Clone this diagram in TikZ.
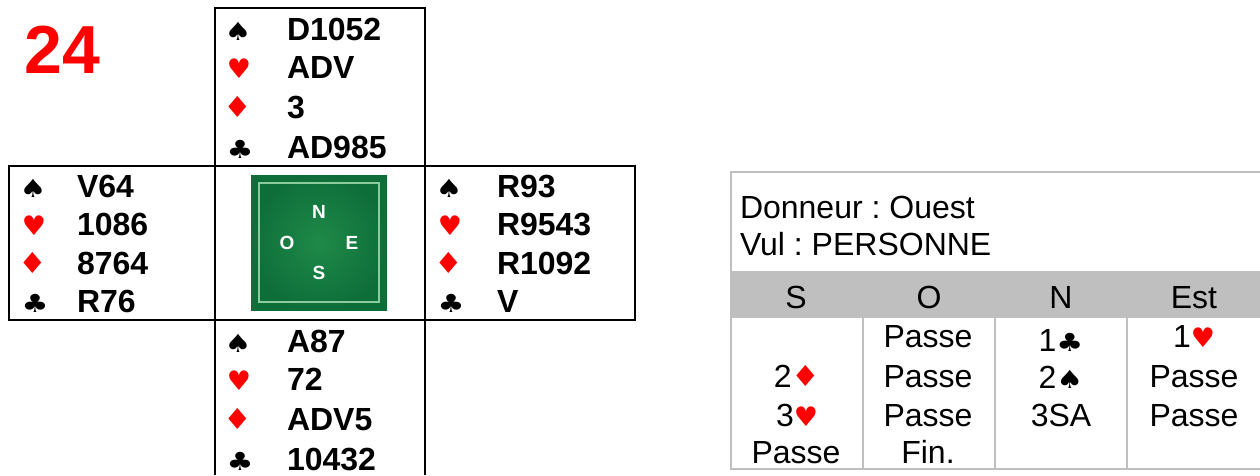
\documentclass[tikz,border=0pt]{standalone}
\usepackage{fontspec}
\setmainfont{Liberation Sans}
\newfontfamily\suitfont{DejaVu Sans}
\frenchspacing
\definecolor{tablegrey}{HTML}{BFBFBF}
\definecolor{feltcenter}{HTML}{1E8A48}
\definecolor{feltedge}{HTML}{0E6E3A}
\definecolor{feltline}{HTML}{8CCB9E}
\newcommand{\sz}[1]{\fontsize{#1}{#1}\selectfont}
\newcommand{\sS}{{\suitfont\sz{25}\scalebox{1.2}[1]{♠}}}
\newcommand{\sH}{{\color{red}\suitfont\sz{27}♥}}
\newcommand{\sD}{{\color{red}\suitfont\sz{29}\raisebox{1pt}{\scalebox{1.1}[1]{♦}}}}
\newcommand{\sC}{{\suitfont\sz{25}\scalebox{1.2}[1]{♣}}}
\newcommand{\handcards}[9]{%
  \node[suitmark] (#1s1) at (#2,#4) {\sS};
  \node[suitmark] (#1s2) at (#2+1,#5) {\sH};
  \node[suitmark] (#1s3) at (#2,#6) {\sD};
  \node[suitmark] (#1s4) at (#2+2,#7) {\sC};
  \node[cards] (#1c1) at (#3,#4) {#8};
  \node[cards] (#1c2) at (#3,#5) {#9};
}
\tikzset{
  suitmark/.style={anchor=base,inner sep=0pt,outer sep=0pt},
  cards/.style={anchor=base west,inner sep=0pt,outer sep=0pt,font=\bfseries\sz{32}},
  frame/.style={draw=black,line width=2pt},
  grid/.style={draw=tablegrey,line width=1.5pt},
  lbl/.style={anchor=base west,inner sep=0pt,outer sep=0pt,font=\sz{32}},
  bid/.style={anchor=base,inner sep=0pt,outer sep=0pt,font=\sz{32}},
  felt/.style={text=white,font=\bfseries\sz{19},inner sep=0pt,outer sep=0pt},
}
\begin{document}
\begin{tikzpicture}[x=1pt,y=-1pt]
\useasboundingbox (0,0) rectangle (1260,475);
% Board number
\node[anchor=base west,inner sep=0pt,text=red,font=\bfseries\sz{68}] (board) at (24.5,73) {24};
% Hand frames
\draw[frame] (215,475) -- (215,8) -- (425,8) -- (425,475);
\draw[frame] (9,166) rectangle (635,320);
% Hands
\handcards{n}{238}{287}{40}{78}{118}{158}{D1052}{ADV}
\node[cards] (nc3) at (287,118) {3};
\node[cards] (nc4) at (287,158) {AD985};
\handcards{w}{33}{77}{197}{235}{274}{312}{V64}{1086}
\node[cards] (wc3) at (77,274) {8764};
\node[cards] (wc4) at (77,312) {R76};
\handcards{e}{449}{497}{197}{235}{274}{312}{R93}{R9543}
\node[cards] (ec3) at (497,274) {R1092};
\node[cards] (ec4) at (497,312) {V};
\handcards{s}{238}{287}{352}{390}{430}{470}{A87}{72}
\node[cards] (sc3) at (287,430) {ADV5};
\node[cards] (sc4) at (287,470) {10432};
% Felt compass
\shade[inner color=feltcenter,outer color=feltedge] (251,175) rectangle (387,310);
\draw[feltline,line width=1.5pt] (259,183) rectangle (379,302);
\node[felt] (cn) at (319,212) {N};
\node[felt] (co) at (287,243) {O};
\node[felt] (ce) at (352,243) {E};
\node[felt] (cs) at (319,273) {S};
% Auction table
\fill[tablegrey] (731,271) rectangle (1260,318);
\draw[grid] (1260,172) -- (731,172) -- (731,469) -- (1260,469);
\draw[grid] (863,318) -- (863,469);
\draw[grid] (995,318) -- (995,469);
\draw[grid] (1127,318) -- (1127,469);
\node[lbl] (donneur) at (740,218) {Donneur : Ouest};
\node[lbl] (vul) at (740,255) {Vul : PERSONNE};
\node[bid] (hs) at (796,308) {S};
\node[bid] (ho) at (929,308) {O};
\node[bid] (hn) at (1061,308) {N};
\node[bid] (he) at (1194,308) {Est};
\node[bid] (o1) at (928,347) {Passe};
\node[bid] (n1) at (1061,351) {1\sC};
\node[bid] (e1) at (1194,347) {1\sH};
\node[bid] (s2) at (797,387) {2\sD};
\node[bid] (o2) at (928,387) {Passe};
\node[bid] (n2) at (1061,388) {2\sS};
\node[bid] (e2) at (1194,387) {Passe};
\node[bid] (s3) at (797,426) {3\sH};
\node[bid] (o3) at (928,426) {Passe};
\node[bid] (n3) at (1061,426) {3SA};
\node[bid] (e3) at (1194,426) {Passe};
\node[bid] (s4) at (796,463) {Passe};
\node[bid] (o4) at (928,463) {Fin.};
\end{tikzpicture}
\end{document}
